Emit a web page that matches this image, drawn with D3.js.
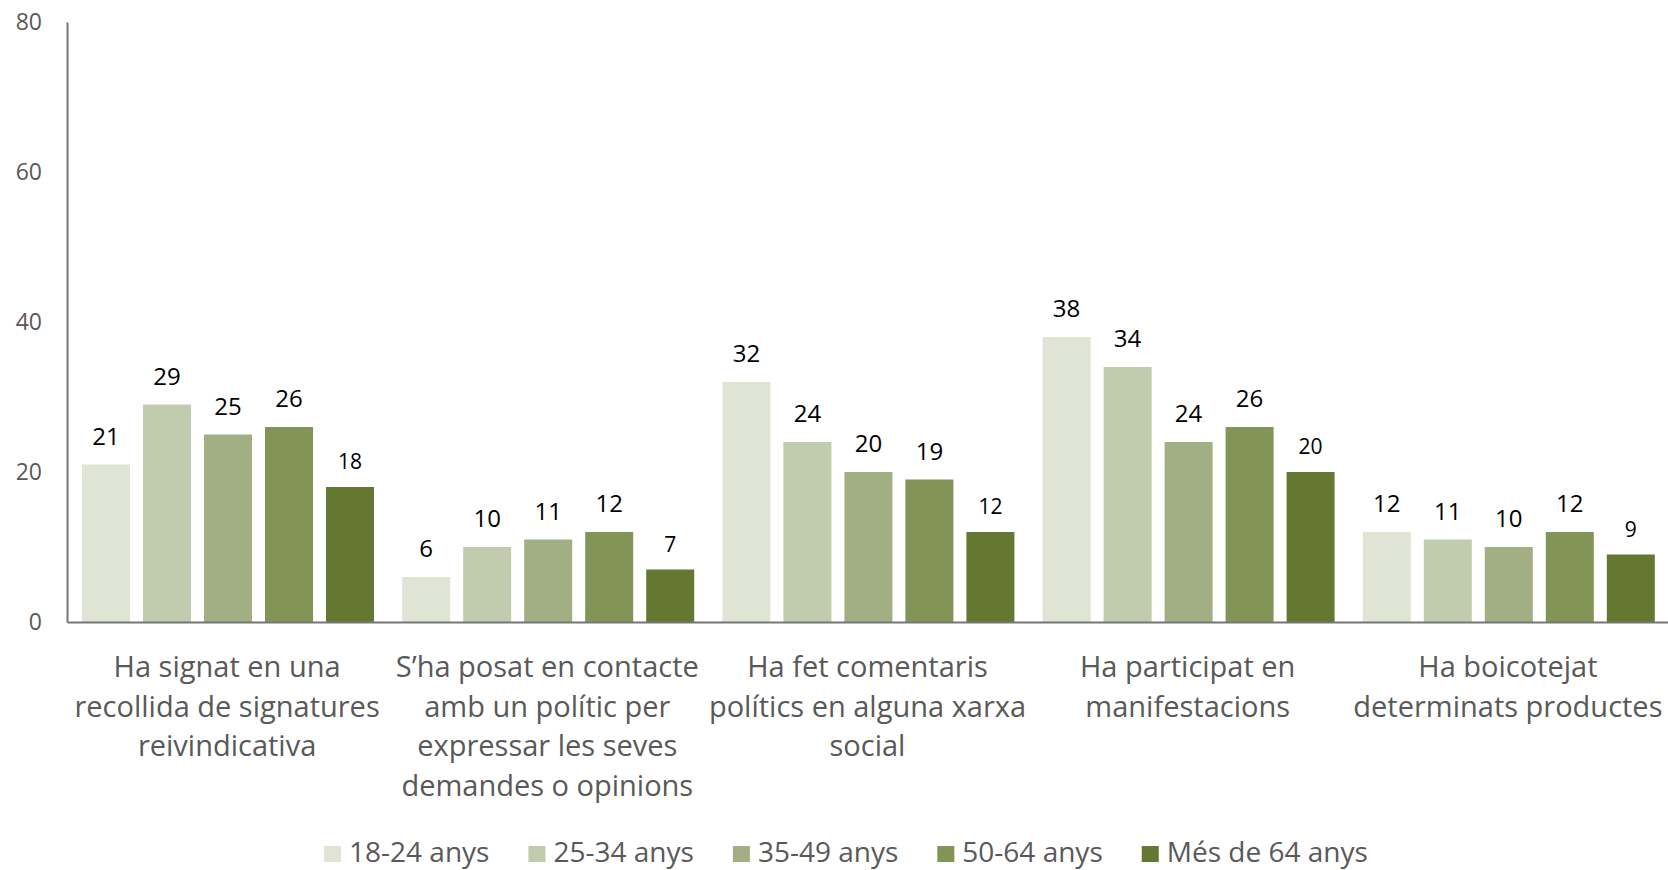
<!DOCTYPE html>
<html>
<head>
<meta charset="utf-8">
<script src="https://cdn.jsdelivr.net/npm/d3@7"></script>
<style>
  html, body { margin: 0; padding: 0; background: #fff; }
  svg { display: block; font-family: "Open Sans", sans-serif; }
</style>
</head>
<body>
<svg id="chart" width="1668" height="870"></svg>
<script>
const categories = [
  ["Ha signat en una", "recollida de signatures", "reivindicativa"],
  ["S\u2019ha posat en contacte", "amb un polític per", "expressar les seves", "demandes o opinions"],
  ["Ha fet comentaris", "polítics en alguna xarxa", "social"],
  ["Ha participat en", "manifestacions"],
  ["Ha boicotejat", "determinats productes"]
];
const seriesNames = ["18-24 anys", "25-34 anys", "35-49 anys", "50-64 anys", "Més de 64 anys"];
const s18_24 = [21, 6, 32, 38, 12];
const s25_34 = [29, 10, 24, 34, 11];
const s35_49 = [25, 11, 20, 24, 10];
const s50_64 = [26, 12, 19, 26, 12];
const s65plus = [18, 7, 12, 20, 9];
const seriesValues = [s18_24, s25_34, s35_49, s50_64, s65plus];
const colors = ["#e0e4d5", "#c1cbad", "#a2af82", "#829557", "#657832"];
const yTicks = [0, 20, 40, 60, 80];

(function () {
const svg = d3.select("#chart");
const mLeft = 67, mRight = 1668, mTop = 22, mBottom = 622;

const catIdx = categories.map((d, i) => i);
const x0 = d3.scaleBand().domain(catIdx).range([mLeft, mRight]).paddingInner(0).paddingOuter(0);
const x1 = d3.scaleBand().domain(d3.range(seriesNames.length)).range([15, 307]).paddingInner(13 / 61).paddingOuter(0);
const y = d3.scaleLinear().domain([0, 80]).range([mBottom, mTop]);

const groups = svg.append("g").selectAll("g").data(catIdx).join("g")
  .attr("transform", i => `translate(${x0(i)},0)`);

groups.selectAll("rect")
  .data(i => seriesValues.map((s, k) => ({k, v: s[i]})))
  .join("rect")
  .attr("x", d => x1(d.k))
  .attr("width", x1.bandwidth())
  .attr("y", d => y(d.v))
  .attr("height", d => y(0) - y(d.v))
  .attr("fill", d => colors[d.k]);

groups.selectAll("text.val")
  .data(i => seriesValues.map((s, k) => ({k, v: s[i]})))
  .join("text")
  .attr("class", "val")
  .attr("x", d => x1(d.k) + x1.bandwidth() / 2)
  .attr("y", d => y(d.v) - (d.k === 4 ? 18 : 20))
  .attr("text-anchor", "middle")
  .attr("font-size", d => d.k === 4 ? 21 : 24)
  .attr("fill", "#000")
  .text(d => d.v);

const yAxis = svg.append("g").attr("transform", `translate(${mLeft},0)`)
  .call(d3.axisLeft(y).tickValues(yTicks).tickSize(0).tickPadding(25));
yAxis.select(".domain").attr("stroke", "#767676").attr("stroke-width", 2);
yAxis.selectAll("text").attr("font-size", 23).attr("fill", "#595959")
  .attr("font-family", "'Open Sans', sans-serif");

const xAxis = svg.append("g").attr("transform", `translate(0,${mBottom})`)
  .call(d3.axisBottom(x0).tickSize(0).tickFormat(""));
xAxis.select(".domain").attr("stroke", "#767676").attr("stroke-width", 2);

const catLabels = svg.append("g").selectAll("text").data(catIdx).join("text")
  .attr("text-anchor", "middle")
  .attr("font-size", 29)
  .attr("fill", "#595959")
  .attr("x", i => x0(i) + x0.bandwidth() / 2)
  .attr("y", mBottom + 55);
catLabels.selectAll("tspan").data(i => categories[i]).join("tspan")
  .attr("x", function () { return this.parentNode.getAttribute("x"); })
  .attr("dy", (d, j) => j === 0 ? 0 : 39.5)
  .text(d => d);

const legend = svg.append("g");
let lx = 324;
seriesNames.forEach((name, k) => {
  legend.append("rect").attr("x", lx).attr("y", 846).attr("width", 17).attr("height", 16).attr("fill", colors[k]);
  const t = legend.append("text").attr("x", lx + 25).attr("y", 862)
    .attr("font-size", 28).attr("fill", "#595959").text(name);
  const w = t.node().getComputedTextLength();
  lx = lx + 25 + w + 39;
});
})();
</script>
</body>
</html>
